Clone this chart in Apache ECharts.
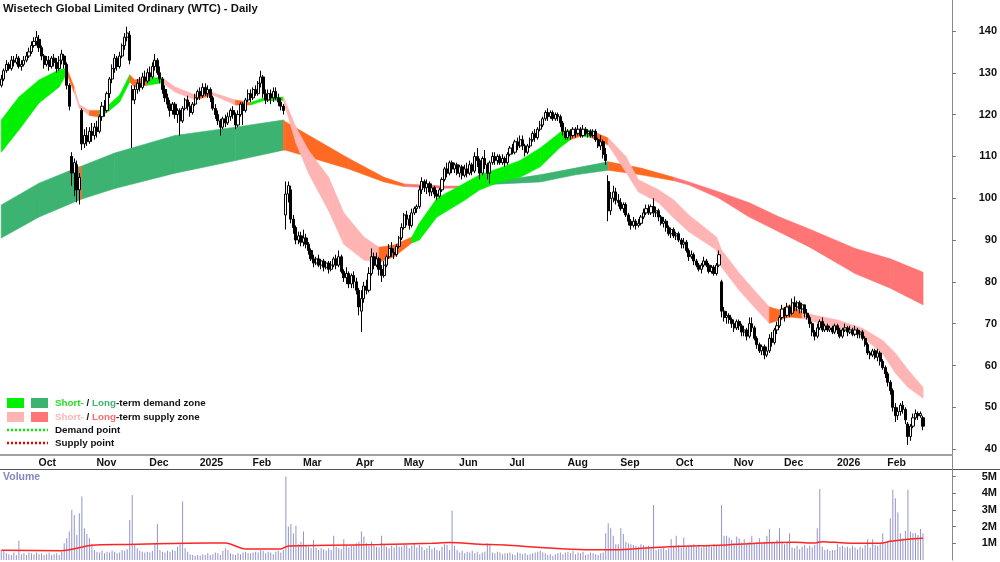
<!DOCTYPE html>
<html>
<head>
<meta charset="utf-8">
<title>WTC Daily</title>
<script src="https://cdn.jsdelivr.net/npm/echarts@6/dist/echarts.min.js"></script>
<style>
  html, body { margin: 0; padding: 0; background: #fff; }
  #chart { width: 1000px; height: 562px; }
</style>
</head>
<body>
<div id="chart"></div>
<script>
// months on the axis and trading days in each (first month is partial, no label)
const months = ['Sep', 'Oct', 'Nov', 'Dec', '2025', 'Feb', 'Mar', 'Apr', 'May', 'Jun', 'Jul', 'Aug', 'Sep', 'Oct', 'Nov', 'Dec', '2026', 'Feb'];
const monthDays = [14, 23, 21, 20, 21, 20, 21, 19, 22, 20, 23, 21, 22, 23, 20, 21, 20, 16];
const blankSlots = 11; // empty room right of the last bar

// daily candles: [open, close, low, high]
const candles = [
  // Sep 2024
  [127,128.5,126.5,129.5],[128.5,130.5,128,131],[130.5,132,130,133],[132,131,130.5,132.5],[131,133,130.5,134],
  [133,132.5,131.5,134],[132.5,133.5,132,134.5],[133.5,131.5,131,134],[131.5,132,130.5,133],[132,133,131.5,134],
  [133,134,132.5,135],[134,135,133.5,136],[135,136.5,134.5,137.5],[136.5,137.5,136,138.5],
  // Oct
  [137.5,138.5,136.5,140],[138,136,135,139],[136,134,133,136.5],[134,132,131,134.5],[132,133,131.5,134],
  [133,131.5,130.5,134],[131.5,133.5,131,134],[133.5,132.5,131.5,134.5],[132.5,131,130,133.5],[131,133,130.5,134],
  [133,134.5,132,135.5],[134,132,131,134.5],[132,127,126,132.5],[127,122,121,127.5],[110,106,103,111],
  [106,108.5,100.5,109.5],[108,102,99,109],[102,105,98.5,106],[121,113,111.5,121.5],[113,115,112,116.5],
  [115,113.5,112.5,117],[113.5,116,113,117],[116,115,113.5,118],
  // Nov
  [115,117,114,118],[117,116,114.5,118.5],[116,119.5,115.5,120],[119.5,122,118.5,123],[122,121,119.5,123.5],
  [121,125,120.5,125.5],[125,128.5,124,129],[128.5,131,127.5,132],[131,133.5,130,134.5],[133.5,131.5,130.5,134],
  [131.5,134,131,135],[134,136.5,133.5,137],[136.5,138.5,135.5,139.5],[138.5,139.5,137.5,141],[139,133,132,140],
  [126,123.5,112,127],[123.5,126,122.5,127],[126,127.5,125,128.5],[127.5,126.5,125.5,129],[126.5,129,126,130],
  [129,128,127,130.5],
  // Dec
  [128,130,127.5,131],[130,129,128,131.5],[129,131.5,128.5,132.5],[131.5,133,130.5,134.5],[133,130,129.5,133.5],
  [130,128.5,127.5,131.5],[128.5,126,125,129],[126,124,123,127],[124,122.5,121.5,125],[122.5,121,119.5,123.5],
  [121,122.5,120,123],[122.5,120,119,123],[120,121,118,121.5],[121,118.5,115,121.5],[118.5,121.5,118,122],
  [121.5,123.5,121,124],[123.5,122,121,124.5],[122,120.5,119.5,123],[120.5,122.5,120,123],[122.5,124,122,125],
  // Jan 2025
  [124,125.5,123.5,126],[125.5,124.5,123.5,126.5],[124.5,126.5,124,127.5],[126.5,125,124.5,127.5],[125,126,124,127],
  [126,124,123,126.5],[124,121.5,121,124.5],[121.5,120,119,122.5],[120,118.5,117.5,121],[118.5,117,115,119],
  [117,119,116.5,119.5],[119,118,117,120],[118,119.5,117.5,120.5],[119.5,121,118.5,121.5],[121,120,119,122],
  [120,117.5,116.5,120.5],[117.5,120,117,121],[120,122.5,119.5,123],[122.5,121,117.5,123],[121,123.5,120.5,124],
  [123.5,125,123,126],
  // Feb
  [125,124,123,126],[124,126,123.5,126.5],[126,125,124.5,127],[125,127.5,124.5,128],[127.5,129,126.5,130.5],
  [129,125,124,129.5],[125,123.5,122.5,126],[123.5,125,123,126],[125,124,122.5,126],[124,125.5,123,126.5],
  [125.5,124,123.5,126.5],[124,123,122,125],[123,122,121,124],[122,121,120,122.5],[96,101,92.5,104],
  [101,103,99,104],[102,95,94,103],[95,93,91.5,96],[93,90,89,93.5],[90,91,89,92],
  // Mar
  [91,89.5,88.5,92],[89.5,90.5,88.5,92.5],[90.5,89,88,91.5],[89,87.5,86.5,89.5],[87.5,85.5,85,88],
  [85.5,84.5,83.5,86.5],[84.5,85.5,84,86],[85.5,84,83.5,86.5],[84,85,83,85.5],[85,83.5,82.5,85.5],
  [83.5,84.5,83,85],[84.5,83,82,85],[83,84,82.5,85],[84,85.5,83.5,86],[85.5,84,83,86.5],
  [84,86,83.5,87.5],[86,82.5,82,86.5],[82.5,81,80,83],[81,82,79.5,83.5],[82,79.5,78.5,82.5],
  [79.5,81.5,78.5,82],
  // Apr
  [81.5,80,78.5,82.5],[80,78,77,81],[78,74,72,78.5],[73,76,68,78],[76,79,75,80],
  [79,78,77,80.5],[78,82,77.5,83.5],[82,86,81.5,88],[86,84,83,87],[84,85.5,83.5,87],
  [85.5,83,81.5,86],[83,81.5,80,84],[81.5,84,81,85],[84,86,83.5,86.5],[86,88,85.5,89],
  [88,87,86,89.5],[87,86.5,85.5,88],[86.5,88.5,86,89],[88.5,90.5,88,91],
  // May
  [90.5,93,90,94],[93,96,92.5,96.5],[96,95,93.5,97],[95,93.5,92.5,96],[93.5,96.5,93,97.5],
  [96.5,97.5,96,98],[97.5,98,96.5,98.5],[98,102,97.5,103],[102,104,101,105],[104,102.5,101.5,104.5],
  [102.5,103.5,101,104.5],[103.5,101.5,100.5,104],[101.5,102.5,100.5,103.5],[102.5,101,100,103],[101,100.5,99.5,102],
  [100.5,102,100,102.5],[102,104.5,101.5,105],[104.5,107,104,107.5],[107,106,105,108.5],[106,108.5,105.5,109],
  [108.5,107,106,109],[107,108,106,108.5],
  // Jun
  [108,106,105.5,108.5],[106,107.5,105,108],[107.5,105.5,104.5,108],[105.5,107,105,108],[107,106,105,108.5],
  [106,108,105.5,109],[108,106.5,105.5,108.5],[106.5,110,106,111],[110,109,107.5,112],[109,106,104.5,109.5],
  [106,109.5,105.5,110],[109.5,108,107,111.5],[108,106,104.5,108.5],[106,108.5,103.5,109],[108.5,110,108,111],
  [110,109,108,111],[109,110,108,110.5],[110,108.5,108,110.5],[108.5,109.5,108,110.5],[109.5,108.5,107.5,110],
  // Jul
  [108.5,110.5,108,111],[110.5,112,110,112.5],[112,111,110.5,113],[111,113.5,110.5,114],[113.5,112.5,111.5,114.5],
  [112.5,114,112,115],[114,112.5,111.5,115],[112.5,111,110,113],[111,112.5,110.5,113],[112.5,114,112,114.5],
  [114,115.5,113.5,116],[115.5,114.5,113.5,116.5],[114.5,116.5,114,117],[116.5,117.5,116,118.5],[117.5,119,117,119.5],
  [119,120.5,118.5,121],[120.5,119.5,118.5,121.5],[119.5,120.5,119,121],[120.5,119,118.5,121],[119,120,118.5,120.5],
  [120,119.5,118.5,120.5],[119.5,118,117,120],[118,116,115,118.5],
  // Aug
  [116,114.5,114,117],[114.5,116,114,116.5],[116,115,114,116.5],[115,116.5,114.5,117],[116.5,115.5,114.5,117],
  [115.5,116.5,115,117.5],[116.5,115,114.5,117],[115,116.5,114.5,117.5],[116.5,115.5,115,117],[115.5,116,114.5,116.5],
  [116,115,114.5,116.5],[115,116,114.5,116.5],[116,114,113.5,116.5],[114,112.5,112,114.5],[112.5,113.5,111.5,115],
  [113.5,110.5,109.5,114],[110.5,109,108,112],[104,97,94.5,105.5],[97,100,96,101.5],[100,101.5,99,103],
  [101.5,99.5,98.5,102.5],
  // Sep
  [99.5,99,98,101],[99,97.5,97,100],[97.5,98.5,96.5,99],[98.5,96,95.5,99],[96,94.5,93.5,96.5],
  [94.5,93.5,92.5,95],[93.5,94.5,93,95.5],[94.5,93.5,92.5,95],[93.5,94,93,95],[94,95.5,93.5,96],
  [95.5,96.5,95,97.5],[96.5,97.5,96,98.5],[97.5,96.5,96,98.5],[96.5,98,96,98.5],[98,96.5,95.5,100],
  [96.5,97,95.5,98],[97,95.5,94.5,97.5],[95.5,94,93.5,96],[94,94.5,93,95.5],[94.5,93,92,95],
  [93,91.5,91,93.5],[91.5,92.5,90.5,93],
  // Oct
  [92.5,91,90.5,93],[91,91.5,90,92],[91.5,90,89.5,92],[90,89,88,90.5],[89,89.5,88,90.5],
  [89.5,87.5,87,90],[87.5,86,85,88],[86,86.5,85.5,87.5],[86.5,85,84,87],[85,84,83.5,85.5],
  [84,83,82.5,84.5],[83,84,82,84.5],[84,85,83.5,86],[85,84,83.5,85.5],[84,82.5,82,84.5],
  [82.5,83.5,82,84],[83.5,82,81.5,84],[82,84,81.5,84.5],[84,86.5,83.5,87.5],[80,73,71.5,80.5],
  [73,71.5,70.5,74],[71.5,72,70,73],[72,71,70,72.5],
  // Nov
  [71,70,69,71.5],[70,69,68,71],[69,70.5,68.5,71],[70.5,69.5,68.5,71],[69.5,68,67,70],
  [68,68.5,67,69.5],[68.5,67,66,69],[67,70,66.5,71.5],[70,69,68,71.5],[69,66.5,66,69.5],
  [66.5,65,64,67],[65,63.5,63,65.5],[63.5,64.5,62.5,65],[64.5,62.5,61.5,65],[62.5,63.5,62,64.5],
  [63.5,66.5,63,67.5],[66.5,65.5,64.5,68],[65.5,68.5,65,69],[68.5,69.5,67.5,70.5],[69.5,71.5,69,72],
  // Dec
  [71.5,73.5,71,74.5],[73.5,72,70.5,74],[72,74,71.5,75],[74,72.5,71.5,74.5],[72.5,75,72,76],
  [75,74,73,76.5],[74,75,73,75.5],[75,73.5,72.5,75.5],[73.5,74.5,72.5,75],[74.5,72.5,71.5,74.5],
  [72.5,71.5,71,73.5],[71.5,70,69,72],[70,68,67,70.5],[68,67,66,68.5],[67,69,66.5,70],
  [69,70.5,68.5,71],[70.5,68.5,68,71.5],[68.5,69.5,68,70],[69.5,68.5,68,70],[68.5,69,68,69.5],
  [69,68,67.5,69.5],
  // Jan 2026
  [68,69.5,67.5,70],[69.5,68.5,67.5,70],[68.5,67,66.5,69],[67,68.5,66.5,69],[68.5,69,68,70],
  [69,68,67,69.5],[68,68.5,67.5,69.5],[68.5,67.5,67,69],[67.5,68.5,67,69.5],[68.5,67.5,66.5,69],
  [67.5,68,66.5,68.5],[68,66.5,66,68.5],[66.5,65,64.5,67],[65,63,62.5,65.5],[63,62.5,61.5,63.5],
  [62.5,63.5,62,64],[63.5,62,61.5,64],[62,63,61,64],[63,61,60,63.5],[61,59.5,59,61.5],
  // Feb
  [59.5,58,57,60],[58,56,55,58.5],[56,54,53,56.5],[54,50,49,54.5],[50,48,46.5,51],
  [48,49,47,50],[49,50.5,48,51],[50.5,49.5,48.5,51.5],[49.5,47,46,50],[46,43,41,46.5],
  [43,45.5,42,46],[45.5,47.5,45,48.5],[47.5,48.5,47,49.5],[48.5,48,47,49],[48,48.5,47.5,49],
  [47.5,45.5,44.5,48]
];

// daily volume, millions of shares
const volumes = [
  0.55,0.55,0.4,0.35,0.3,0.45,0.3,1.15,0.35,0.4,0.3,0.45,0.4,0.35,
  0.45,0.35,0.4,0.3,0.35,0.45,0.3,0.35,0.4,0.3,0.5,1.0,1.3,1.7,3.0,2.7,1.5,2.8,3.8,1.9,1.55,1.3,0.95,
  0.6,0.5,0.45,0.55,0.4,0.5,0.45,0.55,0.5,0.4,0.45,0.6,0.55,0.65,2.4,3.9,0.9,0.7,0.55,0.5,0.45,
  0.5,0.45,0.55,1.0,2.15,0.6,0.5,0.45,0.55,0.5,0.6,0.55,0.8,0.95,3.5,0.7,0.5,0.35,0.3,0.25,
  0.3,0.25,0.35,0.3,0.4,0.3,0.35,0.45,0.4,0.3,0.55,0.7,0.6,0.4,0.35,0.3,0.4,0.35,0.45,0.5,0.4,
  0.4,0.45,0.5,0.45,0.6,0.55,0.4,0.5,0.45,0.35,0.5,0.55,0.45,0.6,5.0,2.0,2.15,1.6,2.05,0.95,
  1.1,1.7,0.9,0.8,0.7,1.2,0.75,0.6,0.7,0.65,0.55,0.7,0.6,1.45,0.8,0.7,0.65,1.25,0.9,0.75,0.85,
  0.9,1.0,1.1,1.7,1.4,1.0,0.85,1.1,0.9,0.8,0.75,1.45,0.9,0.8,0.7,0.85,0.75,0.9,0.8,
  0.8,0.95,0.9,0.7,0.85,1.0,0.75,0.9,0.8,0.6,0.7,0.85,0.65,0.75,0.6,0.55,0.8,0.95,0.9,0.6,2.95,0.85,
  0.6,0.45,0.55,0.4,0.5,0.45,0.55,0.4,0.5,0.35,0.45,0.5,1.0,0.95,0.45,0.4,0.5,0.45,0.35,0.4,
  0.4,0.45,0.35,0.3,0.45,0.4,0.35,0.4,0.3,0.35,0.4,0.45,0.5,0.55,0.45,0.4,0.3,0.35,0.25,0.35,0.4,0.45,0.35,
  0.45,0.5,0.4,0.55,0.35,0.45,0.4,0.5,0.3,0.35,0.45,0.4,0.35,0.3,0.4,0.45,1.6,2.2,1.9,1.45,0.95,
  0.95,1.9,1.55,1.1,1.0,0.95,0.9,0.85,0.8,0.95,0.9,0.8,0.85,0.75,3.3,0.6,0.65,0.7,0.75,0.6,0.7,1.25,
  0.8,1.45,0.9,0.75,1.35,0.8,0.85,0.9,0.95,0.8,0.85,0.75,0.9,0.85,0.9,0.8,0.95,0.85,0.9,3.3,1.45,1.45,1.35,
  1.2,1.0,1.4,1.3,1.05,1.25,0.95,1.1,1.45,1.0,1.05,1.3,1.0,1.1,1.45,1.85,1.1,1.0,1.2,1.9,
  1.1,0.95,1.05,1.6,0.75,0.7,0.85,0.65,0.8,0.9,0.7,0.85,0.75,0.9,1.9,4.25,0.8,0.6,0.65,0.55,0.6,
  0.6,0.95,0.8,0.85,0.75,0.8,0.7,0.85,0.75,0.65,0.8,0.7,0.9,1.25,0.75,1.25,0.9,0.85,0.95,1.6,
  1.0,1.1,2.5,4.2,3.7,2.85,1.6,1.3,1.75,4.2,1.7,1.6,1.6,1.5,1.85,1.6
];

// volume average line: [bar index, millions]
const volumeAvg = [
  [0,0.58],[24,0.56],[30,0.7],[36,0.88],[50,0.93],[74,1.0],[89,1.02],[97,0.66],[111,0.66],[114,0.84],
  [130,0.88],[150,0.93],[171,1.0],[178,1.05],[190,0.95],[200,0.9],[214,0.75],[232,0.62],[244,0.62],
  [256,0.72],[270,0.82],[285,0.88],[300,1.0],[315,1.06],[323,1.02],[326,1.1],[335,1.02],[349,1.0],
  [353,1.12],[360,1.25],[366,1.3]
];

// zones: [bar index, upper, lower, zone state]  G short demand, D long demand, P short supply, R long supply, O mixed
const shortBand = [
  [0,118.7,111,'G'],[7,124.2,116.3,'G'],[15,128.3,122.8,'G'],[23,130.7,126.6,'G'],[26,131.1,129.8,'O'],
  [29,126.5,125.2,'P'],[31,122.4,121.5,'P'],[35,121,119.8,'O'],[39,121,119.4,'G'],[43,122.5,121,'G'],
  [47,124.7,123,'G'],[51,129.5,127.8,'O'],[53,128.3,126.6,'O'],[58,128.8,127,'G'],[64,128.8,127.6,'P'],
  [69,126.6,125.4,'P'],[77,124.7,123.5,'O'],[84,125.2,124.7,'P'],[93,123.5,122.3,'O'],[99,122.9,122.3,'G'],
  [104,123.9,123.3,'G'],[112,124.2,123.4,'P'],[117,117,113.2,'P'],[122,111.5,106,'P'],[130,105,97,'P'],
  [136,96.5,89,'P'],[144,90.7,85.2,'P'],[150,88.3,84.7,'O'],[156,88.8,86,'O'],[163,90.7,89.3,'G'],
  [166,94,90,'G'],[173,100,95.5,'G'],[184,103.6,99.5,'G'],[190,105.6,102,'G'],[198,107.2,103.9,'G'],
  [206,109,105,'G'],[214,112,107.5,'G'],[222,115.8,112.2,'G'],[226,116.3,114,'O'],[230,116.5,114.8,'G'],
  [234,116.2,114.6,'O'],[241,114.4,112.7,'P'],[248,110,106.3,'P'],[253,104.4,101.5,'P'],[261,102,98.9,'P'],
  [267,99.6,95.3,'P'],[273,96,92,'P'],[284,90.7,87.6,'P'],[286,87.6,83.5,'P'],[293,82.1,78,'P'],
  [300,77.3,73.3,'P'],[305,74,70.1,'O'],[309,73.3,70.9,'O'],[313,74.5,71.6,'O'],[318,72.8,71.3,'P'],
  [323,72,70.4,'P'],[332,70.9,68.9,'P'],[342,68.9,66.8,'P'],[350,66,62.8,'P'],[355,63,58.2,'P'],
  [360,59,54.8,'P'],[366,54.8,52.2,'P']
];
const longBand = [
  [0,98.4,90.5,'D'],[15,103.6,95.5,'D'],[31,107.5,99.6,'O'],[32,107.7,99.8,'D'],[45,110.8,102.3,'D'],
  [69,115,106,'D'],[93,117,109,'D'],[112,118.7,111.5,'O'],[113,118.2,111.5,'O'],[138,109.5,107,'O'],
  [152,105,103.9,'O'],[160,103.4,102.8,'R'],[176,102.9,102.4,'R'],[186,102.9,102.5,'D'],[194,103.8,103.3,'D'],
  [214,105.6,103.9,'D'],[228,107.2,105.6,'D'],[241,108.7,106.7,'O'],[254,107.2,105.6,'O'],[267,105,104.2,'R'],
  [273,103.9,103.2,'R'],[285,101.5,100,'R'],[297,98.9,95.5,'R'],[309,95.5,91.9,'R'],[321,92.6,88.3,'R'],
  [339,88,82,'R'],[353,85.5,78.5,'R'],[366,82.3,74.5,'R']
];

const priceTicks = [40, 50, 60, 70, 80, 90, 100, 110, 120, 130, 140];
const volumeTicks = [1, 2, 3, 4, 5];

const zoneColors = { G: '#00f000', D: '#3cb371', P: '#ffb4b4', R: '#ff7474', O: '#ff6a22' };
const font = 'Arial, "Liberation Sans", sans-serif';
const legendFont = 'bold 9.8px ' + font;

// category per trading day: "month|monthIndex|day"
const categories = [];
months.forEach((m, mi) => {
  for (let d = 0; d < monthDays[mi]; d++) categories.push(m + '|' + mi + '|' + d);
});
for (let i = 0; i < blankSlots; i++) categories.push('x|' + i);

const isMonthStart = (v) => {
  const p = String(v).split('|');
  return p.length === 3 && p[2] === '0' && p[1] !== '0';
};

function bandSeries(band) {
  return {
    type: 'custom',
    xAxisIndex: 0,
    yAxisIndex: 0,
    z: 1,
    clip: true,
    silent: true,
    data: band.map(p => [p[0], p[1], p[2]]),
    encode: { x: 0, y: [1, 2] },
    renderItem: (params, api) => {
      const i = params.dataIndex;
      if (i >= band.length - 1) return null;
      const a = band[i], b = band[i + 1];
      const c = zoneColors[a[3]];
      return {
        type: 'polygon',
        shape: { points: [api.coord([a[0], a[1]]), api.coord([b[0], b[1]]), api.coord([b[0], b[2]]), api.coord([a[0], a[2]])] },
        style: { fill: c, stroke: c, lineWidth: 0.6 }
      };
    }
  };
}

const myChart = echarts.init(document.getElementById('chart'), null, { renderer: 'canvas' });

const option = {
  animation: false,
  backgroundColor: '#ffffff',
  grid: [
    { left: 0, right: 48, top: 0, height: 455, outerBoundsMode: 'none' },
    { left: 0, right: 48, top: 469, height: 91, outerBoundsMode: 'none' }
  ],
  xAxis: [
    {
      type: 'category',
      gridIndex: 0,
      data: categories,
      boundaryGap: true,
      axisLine: { lineStyle: { color: '#a0a0a0', width: 2 } },
      axisTick: { interval: (i, v) => isMonthStart(v), length: 4, lineStyle: { color: '#777' } },
      axisLabel: {
        interval: (i, v) => isMonthStart(v),
        formatter: v => String(v).split('|')[0],
        align: 'left',
        margin: 3,
        padding: [0, 0, 0, 2],
        color: '#111',
        fontWeight: 'bold',
        fontSize: 10.5,
        fontFamily: font
      },
      splitLine: { show: false }
    },
    {
      type: 'category',
      gridIndex: 1,
      data: categories,
      boundaryGap: true,
      axisLine: { show: false },
      axisTick: { show: false },
      axisLabel: { show: false },
      splitLine: { show: false }
    }
  ],
  yAxis: [
    {
      type: 'value',
      gridIndex: 0,
      position: 'right',
      min: 38.6,
      max: 147.4,
      axisLine: { show: true, lineStyle: { color: '#888', width: 1 } },
      axisTick: { show: true, customValues: priceTicks, length: 4, lineStyle: { color: '#777' } },
      axisLabel: {
        customValues: priceTicks,
        align: 'right',
        margin: 45,
        color: '#111',
        fontWeight: 'bold',
        fontSize: 11,
        fontFamily: font
      },
      splitLine: { show: false }
    },
    {
      type: 'value',
      gridIndex: 1,
      position: 'right',
      min: 0,
      max: 5.45,
      axisLine: { show: true, lineStyle: { color: '#888', width: 1 } },
      axisTick: { show: true, customValues: volumeTicks, length: 4, lineStyle: { color: '#777' } },
      axisLabel: {
        customValues: volumeTicks,
        formatter: v => v + 'M',
        align: 'right',
        margin: 45,
        color: '#111',
        fontWeight: 'bold',
        fontSize: 11,
        fontFamily: font
      },
      splitLine: { show: false }
    }
  ],
  series: [
    bandSeries(longBand),
    bandSeries(shortBand),
    {
      name: 'WTC',
      type: 'candlestick',
      xAxisIndex: 0,
      yAxisIndex: 0,
      z: 3,
      silent: true,
      barWidth: 2.6,
      data: candles,
      itemStyle: {
        color: '#ffffff',
        color0: '#000000',
        borderColor: '#000000',
        borderColor0: '#000000',
        borderWidth: 1
      }
    },
    {
      name: 'Volume',
      type: 'bar',
      xAxisIndex: 1,
      yAxisIndex: 1,
      silent: true,
      barWidth: 1,
      data: volumes,
      itemStyle: { color: '#9393cc' }
    },
    {
      name: 'Volume average',
      type: 'line',
      xAxisIndex: 1,
      yAxisIndex: 1,
      z: 4,
      silent: true,
      smooth: 0.3,
      showSymbol: false,
      data: volumeAvg,
      lineStyle: { color: '#ff2424', width: 1.5 }
    }
  ],
  graphic: [
    {
      type: 'text', left: 3, top: 3,
      style: { text: 'Wisetech Global Limited Ordinary (WTC) - Daily', font: 'bold 11.3px ' + font, fill: '#111' }
    },
    { type: 'line', shape: { x1: 0, y1: 469.5, x2: 1000, y2: 469.5 }, style: { stroke: '#555', lineWidth: 1 } },
    { type: 'line', shape: { x1: 952.5, y1: 455, x2: 952.5, y2: 470 }, style: { stroke: '#888', lineWidth: 1 } },
    {
      type: 'text', left: 3, top: 472,
      style: { text: 'Volume', font: 'bold 10.5px ' + font, fill: '#8585c2' }
    },
    // legend
    { type: 'rect', shape: { x: 7, y: 398, width: 17, height: 10 }, style: { fill: zoneColors.G } },
    { type: 'rect', shape: { x: 31, y: 398, width: 17, height: 10 }, style: { fill: zoneColors.D } },
    { type: 'rect', shape: { x: 7, y: 412, width: 17, height: 10 }, style: { fill: zoneColors.P } },
    { type: 'rect', shape: { x: 31, y: 412, width: 17, height: 10 }, style: { fill: zoneColors.R } },
    { type: 'line', shape: { x1: 7, y1: 430, x2: 48, y2: 430 }, style: { stroke: '#00ee00', lineWidth: 2.5, lineDash: [2, 2] } },
    { type: 'line', shape: { x1: 7, y1: 443, x2: 48, y2: 443 }, style: { stroke: '#ee0000', lineWidth: 2.5, lineDash: [2, 2] } },
    {
      type: 'text', x: 55, y: 403,
      style: {
        text: '{a|Short-} / {b|Long}-term demand zone',
        font: legendFont, fill: '#111', verticalAlign: 'middle',
        rich: {
          a: { fill: '#22e022', font: legendFont },
          b: { fill: '#3cb371', font: legendFont }
        }
      }
    },
    {
      type: 'text', x: 55, y: 417,
      style: {
        text: '{a|Short-} / {b|Long}-term supply zone',
        font: legendFont, fill: '#111', verticalAlign: 'middle',
        rich: {
          a: { fill: '#ffb4b4', font: legendFont },
          b: { fill: '#ff6b6b', font: legendFont }
        }
      }
    },
    { type: 'text', x: 55, y: 430, style: { text: 'Demand point', font: legendFont, fill: '#111', verticalAlign: 'middle' } },
    { type: 'text', x: 55, y: 443, style: { text: 'Supply point', font: legendFont, fill: '#111', verticalAlign: 'middle' } }
  ]
};

myChart.setOption(option);
</script>
</body>
</html>
